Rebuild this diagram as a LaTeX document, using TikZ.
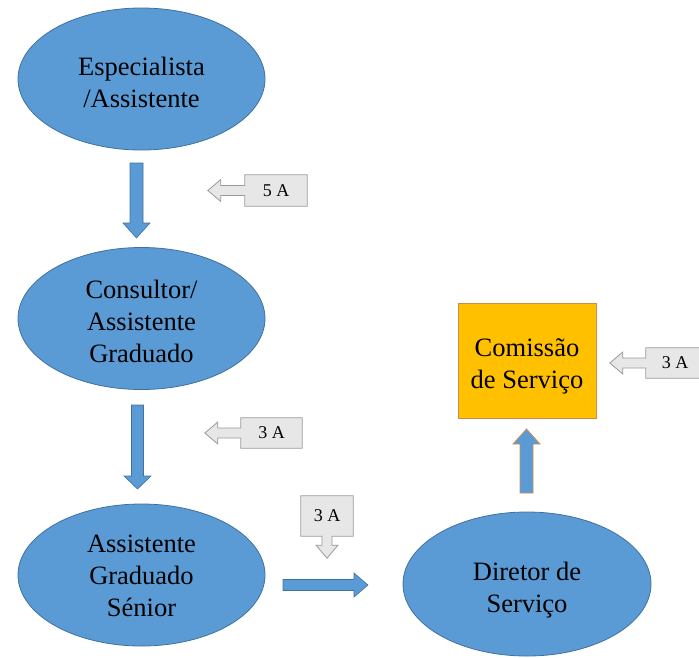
\documentclass[tikz,border=0pt]{standalone}
\usepackage{fontspec}
\setmainfont{Liberation Serif}
\usetikzlibrary{calc,shapes.geometric,backgrounds}
\definecolor{ellfill}{HTML}{5B9BD5}
\definecolor{elldraw}{HTML}{41719C}
\definecolor{boxfill}{HTML}{FFC000}
\definecolor{boxdraw}{HTML}{D08A4A}
\definecolor{calfill}{HTML}{E7E7E7}
\definecolor{caldraw}{HTML}{9A9A9A}
% centred lines of text, lowered by #1 without changing the box size
\newcommand\lowtext[2]{\raisebox{-#1}[\height][\depth]{\begin{tabular}{@{}c@{}}#2\end{tabular}}}
\tikzset{
  stage/.style={ellipse, fill=ellfill, draw=elldraw, line width=0.8pt,
    minimum width=247pt, minimum height=142pt, inner sep=0pt,
    align=center, font=\fontsize{26.5}{32}\selectfont},
  office/.style={rectangle, fill=boxfill, draw=boxdraw, line width=0.8pt,
    minimum width=138pt, minimum height=115pt, inner sep=0pt,
    align=center, font=\fontsize{26.5}{32}\selectfont},
  tag/.style={rectangle, inner sep=0pt, font=\fontsize{18}{20}\selectfont},
  outline/.style={fill=calfill, draw=caldraw, line width=0.8pt, line join=miter},
  blockarrow/.style={fill=ellfill, draw=elldraw, line width=0.6pt},
  blockarrowo/.style={fill=ellfill, draw=boxdraw, line width=0.8pt},
}
\begin{document}
\begin{tikzpicture}[x=1pt,y=-1pt]
\useasboundingbox (0,0) rectangle (699,657);

% career stages
\node[stage] (esp) at (141.5,79) {\lowtext{6pt}{Especialista\\/Assistente}};
\node[stage] (cons) at (141.5,318.5) {\lowtext{6pt}{Consultor/\\Assistente\\Graduado}};
\node[stage] (sen) at (141.5,575) {\lowtext{3pt}{Assistente\\Graduado\\Sénior}};
\node[stage, minimum width=248pt, minimum height=144pt] (dir) at (527,584) {\lowtext{6pt}{Diretor de\\Serviço}};
\node[office] (com) at (527,360.5) {\lowtext{6pt}{Comissão\\de Serviço}};

% block arrows between stages
\coordinate (a1s) at (136.5,163);
\coordinate (a1t) at (136.5,238);
\draw[blockarrow] ($(a1s)+(-6.5,0)$) -- ($(a1s)+(6.5,0)$) -- ($(a1t)+(6.5,-15)$)
  -- ($(a1t)+(13.5,-15)$) -- (a1t) -- ($(a1t)+(-13.5,-15)$) -- ($(a1t)+(-6.5,-15)$) -- cycle;

\coordinate (a2s) at (137.5,405);
\coordinate (a2t) at (137.5,489);
\draw[blockarrow] ($(a2s)+(-6,0)$) -- ($(a2s)+(6,0)$) -- ($(a2t)+(6,-13)$)
  -- ($(a2t)+(13.5,-13)$) -- (a2t) -- ($(a2t)+(-13.5,-13)$) -- ($(a2t)+(-6,-13)$) -- cycle;

% right arrow towards the director
\coordinate (a3s) at (283,585);
\coordinate (a3t) at (368,585);
\draw[blockarrow] ($(a3s)+(0,-5.5)$) -- ($(a3t)+(-14,-5.5)$) -- ($(a3t)+(-14,-12)$)
  -- (a3t) -- ($(a3t)+(-14,12)$) -- ($(a3t)+(-14,5.5)$) -- ($(a3s)+(0,5.5)$) -- cycle;

% up arrow towards the commission
\coordinate (a4s) at (526.5,493);
\coordinate (a4t) at (526.5,429);
\draw[blockarrowo] ($(a4s)+(-6.5,0)$) -- ($(a4t)+(-6.5,15)$) -- ($(a4t)+(-13.5,15)$)
  -- (a4t) -- ($(a4t)+(13.5,15)$) -- ($(a4t)+(6.5,15)$) -- ($(a4s)+(6.5,0)$) -- cycle;

% duration callouts
\node[tag, minimum width=62pt, minimum height=31pt] (t1) at (276,190.5) {5 A};
\node[tag, minimum width=61pt, minimum height=30pt] (t2) at (271.5,433) {3 A};
\node[tag, minimum width=58pt, minimum height=30pt] (t4) at (675,363) {3 A};
\node[tag, minimum width=52pt, minimum height=40pt] (t3) at (327,516) {3 A};

\begin{scope}[on background layer]
% callouts pointing left
\foreach \t/\s/\h in {t1/24/37, t2/23/36, t4/23/36}{
  \draw[outline] (\t.north west) -- (\t.north east) -- (\t.south east) -- (\t.south west)
    -- ($(\t.west)+(0,5)$) -- ($(\t.west)+(-\s,5)$) -- ($(\t.west)+(-\s,11)$)
    -- ($(\t.west)+(-\h,0)$) -- ($(\t.west)+(-\s,-11)$) -- ($(\t.west)+(-\s,-5)$)
    -- ($(\t.west)+(0,-5)$) -- cycle;
}
% callout pointing down
\draw[outline] (t3.north west) -- (t3.north east) -- (t3.south east)
  -- ($(t3.south)+(5,0)$) -- ($(t3.south)+(5,9)$) -- ($(t3.south)+(11,9)$)
  -- ($(t3.south)+(0,22)$) -- ($(t3.south)+(-11,9)$) -- ($(t3.south)+(-5,9)$)
  -- ($(t3.south)+(-5,0)$) -- (t3.south west) -- cycle;
\end{scope}
\end{tikzpicture}
\end{document}
